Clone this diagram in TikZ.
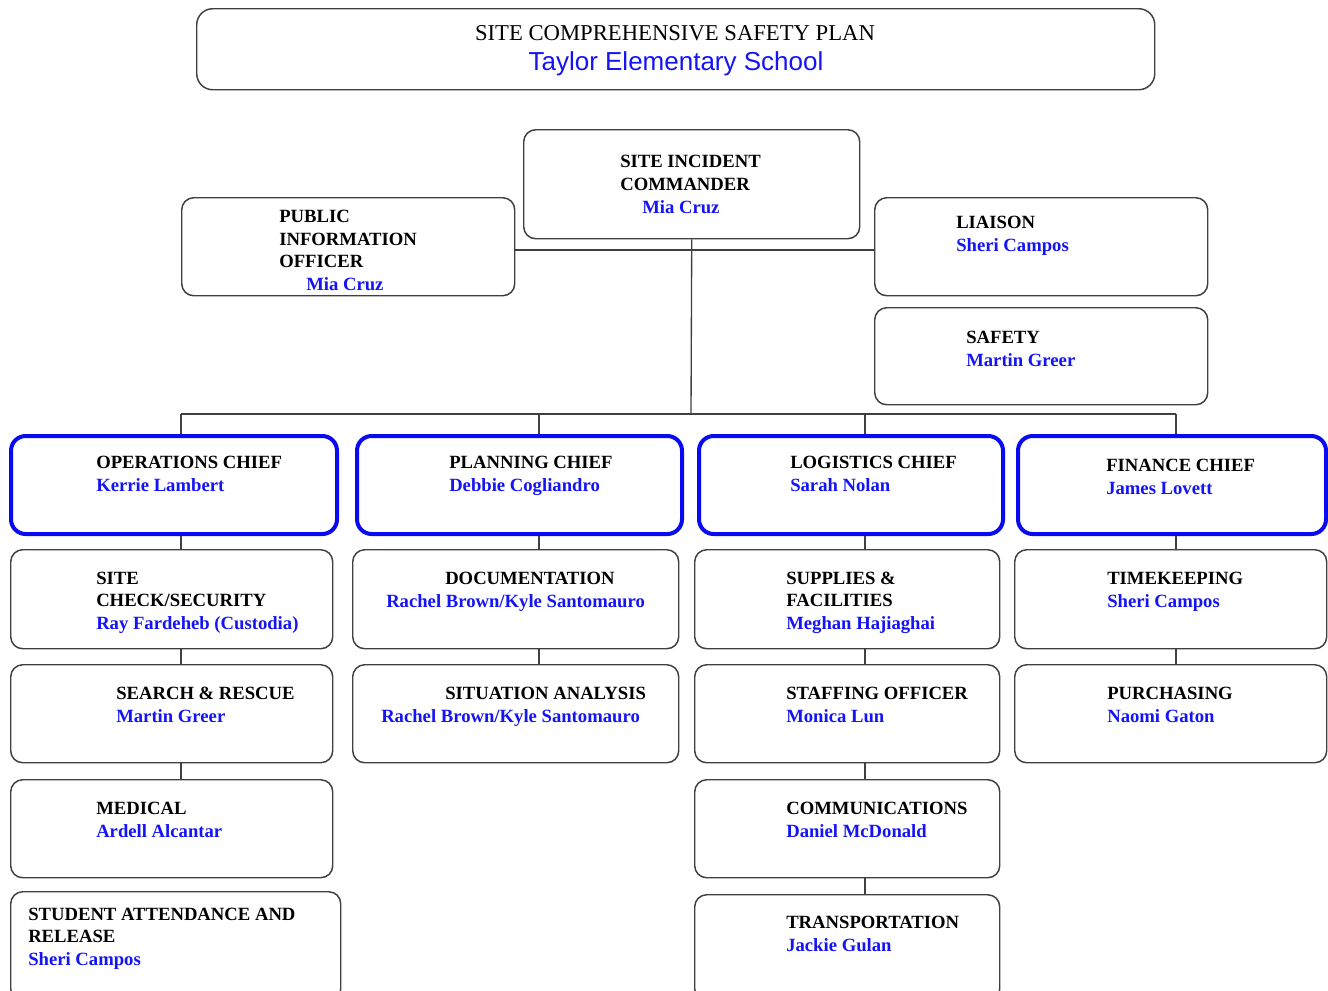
\documentclass[tikz,border=0pt]{standalone}
\usepackage{fontspec}
\setmainfont{Liberation Serif}
\newfontfamily\arialfont{Liberation Sans}
\definecolor{nameblue}{RGB}{20,20,245}
\definecolor{chiefblue}{RGB}{10,10,240}
\tikzset{
  box/.style={draw=black!75, line width=1.1pt, rounded corners=9pt, inner sep=0pt, fill=white},
  chiefbox/.style={draw=chiefblue, line width=3pt, rounded corners=11pt, inner sep=0pt, fill=white},
  conn/.style={draw=black!75, line width=1pt},
  hd/.style={inner sep=0pt, anchor=base west, font=\fontsize{14}{17}\selectfont\bfseries, text=black},
  nm/.style={inner sep=0pt, anchor=base west, font=\fontsize{14}{17}\selectfont\bfseries, text=nameblue},
}
\newcommand\obox[6]{\node[#6, minimum width={(#4-#2)*0.75pt}, minimum height={(#5-#3)*0.75pt}, anchor=north west] (#1) at (#2,#3) {};}
\begin{document}
\begin{tikzpicture}[x=0.75pt, y=-0.75pt]
\clip (0,0) rectangle (1328,990);
\fill[white] (0,0) rectangle (1328,990);

% title
\obox{title}{196}{8}{1154}{89}{box, rounded corners=12pt}
\node[inner sep=0pt, anchor=base, font=\fontsize{17}{20}\selectfont] (t1) at (675,40) {SITE COMPREHENSIVE SAFETY PLAN};
\node[inner sep=0pt, anchor=base, font=\arialfont\fontsize{19.5}{22}\selectfont, text=nameblue] (t2) at (676,70) {Taylor Elementary School};

% coordinates for connectors
\coordinate (h) at (691,250);
\coordinate (bus) at (691,414);
\coordinate (c1) at (181,414);
\coordinate (c2) at (539,414);
\coordinate (c3) at (865,414);
\coordinate (c4) at (1176,414);

% command staff
\obox{sic}{523}{129}{859}{238}{box}
\obox{pio}{181}{197}{514}{295}{box}
\obox{liaison}{874}{197}{1207}{295}{box}
\obox{safety}{874}{307}{1207}{404}{box}

% chiefs
\obox{ops}{9}{434}{335}{532}{chiefbox}
\obox{plan}{355}{434}{680}{532}{chiefbox}
\obox{log}{697}{434}{1001}{532}{chiefbox}
\obox{fin}{1016}{434}{1324}{532}{chiefbox}

% column 1
\obox{sc}{10}{549}{332}{648}{box}
\obox{sr}{10}{664}{332}{762}{box}
\obox{med}{10}{779}{332}{877}{box}
\obox{stu}{10}{891}{340}{1000}{box}
% column 2
\obox{doc}{352}{549}{678}{648}{box}
\obox{sa}{352}{664}{678}{762}{box}
% column 3
\obox{sup}{694}{549}{999}{648}{box}
\obox{staff}{694}{664}{999}{762}{box}
\obox{comm}{694}{779}{999}{877}{box}
\obox{trans}{694}{894}{999}{1000}{box}
% column 4
\obox{time}{1014}{549}{1326}{648}{box}
\obox{pur}{1014}{664}{1326}{762}{box}

% connectors
\draw[conn] (pio.east |- h) -- (liaison.west |- h);
\draw[conn] (sic.south) -- (bus);
\draw[conn] (c1) -- (c4);
\draw[conn] (c1) -- (c1 |- ops.north);
\draw[conn] (c2) -- (c2 |- plan.north);
\draw[conn] (c3) -- (c3 |- log.north);
\draw[conn] (c4) -- (c4 |- fin.north);
\draw[conn] (c1 |- ops.south) -- (c1 |- sc.north);
\draw[conn] (c1 |- sc.south) -- (c1 |- sr.north);
\draw[conn] (c1 |- sr.south) -- (c1 |- med.north);
\draw[conn] (c2 |- plan.south) -- (c2 |- doc.north);
\draw[conn] (c2 |- doc.south) -- (c2 |- sa.north);
\draw[conn] (c3 |- log.south) -- (c3 |- sup.north);
\draw[conn] (c3 |- sup.south) -- (c3 |- staff.north);
\draw[conn] (c3 |- staff.south) -- (c3 |- comm.north);
\draw[conn] (c3 |- comm.south) -- (c3 |- trans.north);
\draw[conn] (c4 |- fin.south) -- (c4 |- time.north);
\draw[conn] (c4 |- time.south) -- (c4 |- pur.north);

% texts
\node[hd] (sicA) at (620,167) {SITE INCIDENT};
\node[hd] (sicB) at (620,190) {COMMANDER};
\node[nm] (sicN) at (642,213) {Mia Cruz};

\node[hd] (pioA) at (279,222) {PUBLIC};
\node[hd] (pioB) at (279,245) {INFORMATION};
\node[hd] (pioC) at (279,267) {OFFICER};
\node[nm] (pioN) at (306,290) {Mia Cruz};

\node[hd] (liaA) at (956,228) {LIAISON};
\node[nm] (liaN) at (956,251) {Sheri Campos};

\node[hd] (safA) at (966,343) {SAFETY};
\node[nm] (safN) at (966,366) {Martin Greer};

\node[hd] (opsA) at (96,468) {OPERATIONS CHIEF};
\node[nm] (opsN) at (96,491) {Kerrie Lambert};
\node[hd] (planA) at (449,468) {PLANNING CHIEF};
\node[nm] (planN) at (449,491) {Debbie Cogliandro};
\node[hd] (logA) at (790,468) {LOGISTICS CHIEF};
\node[nm] (logN) at (790,491) {Sarah Nolan};
\node[hd] (finA) at (1106,471) {FINANCE CHIEF};
\node[nm] (finN) at (1106,494) {James Lovett};

\node[hd] (scA) at (96,584) {SITE};
\node[hd] (scB) at (96,606) {CHECK/SECURITY};
\node[nm] (scN) at (96,629) {Ray Fardeheb (Custodia)};
\node[hd] (docA) at (445,584) {DOCUMENTATION};
\node[nm] (docN) at (386,607) {Rachel Brown/Kyle Santomauro};
\node[hd] (supA) at (786,584) {SUPPLIES \&};
\node[hd] (supB) at (786,606) {FACILITIES};
\node[nm] (supN) at (786,629) {Meghan Hajiaghai};
\node[hd] (timeA) at (1107,584) {TIMEKEEPING};
\node[nm] (timeN) at (1107,607) {Sheri Campos};

\node[hd] (srA) at (116,699) {SEARCH \& RESCUE};
\node[nm] (srN) at (116,722) {Martin Greer};
\node[hd] (saA) at (445,699) {SITUATION ANALYSIS};
\node[nm] (saN) at (381,722) {Rachel Brown/Kyle Santomauro};
\node[hd] (staffA) at (786,699) {STAFFING OFFICER};
\node[nm] (staffN) at (786,722) {Monica Lun};
\node[hd] (purA) at (1107,699) {PURCHASING};
\node[nm] (purN) at (1107,722) {Naomi Gaton};

\node[hd] (medA) at (96,814) {MEDICAL};
\node[nm] (medN) at (96,837) {Ardell Alcantar};
\node[hd] (commA) at (786,814) {COMMUNICATIONS};
\node[nm] (commN) at (786,837) {Daniel McDonald};

\node[hd] (stuA) at (28,920) {STUDENT ATTENDANCE AND};
\node[hd] (stuB) at (28,942) {RELEASE};
\node[nm] (stuN) at (28,965) {Sheri Campos};
\node[hd] (transA) at (786,928) {TRANSPORTATION};
\node[nm] (transN) at (786,951) {Jackie Gulan};
\end{tikzpicture}
\end{document}
